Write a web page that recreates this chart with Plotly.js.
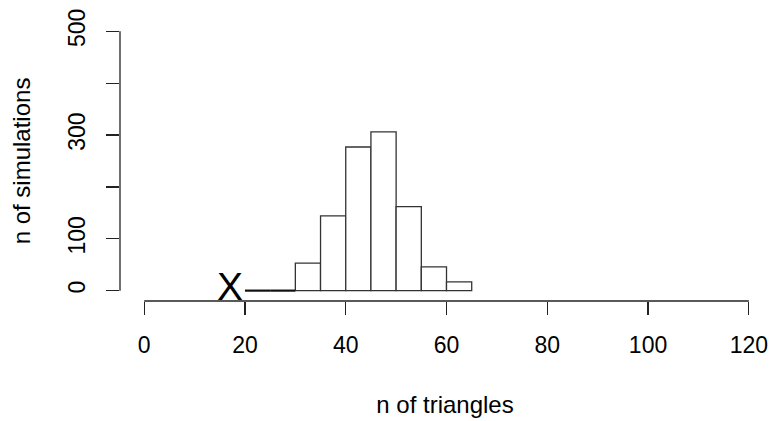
<!DOCTYPE html>
<html>
<head>
<meta charset="utf-8">
<script src="https://cdn.plot.ly/plotly-3.0.1.min.js"></script>
<style>html,body{margin:0;padding:0;background:#fff;}#chart{width:770px;height:421px;}</style>
</head>
<body>
<div id="chart"></div>
<script>
// Histogram bins (left edges, width 5) and counts
const binStarts = [20, 25, 30, 35, 40, 45, 50, 55, 60];
const binWidth = 5;
const counts = [0, 0, 53, 144, 277, 306, 162, 46, 17];
// Observed value marked with "X"
const observed = [17];
const observedLabel = ["X"];
// Axis ticks
const xTicks = [0, 20, 40, 60, 80, 100, 120];
const yTicks = [0, 100, 200, 300, 400, 500];
const yTickText = ["0", "100", "", "300", "", "500"];

const FONT = "Liberation Sans, Arial, sans-serif";
const INK = "#222";

// Non-zero bins as bars
const bx = [], by = [];
binStarts.forEach((s, i) => { if (counts[i] > 0) { bx.push(s + binWidth / 2); by.push(counts[i]); } });
const bars = {
  type: "bar", x: bx, y: by, width: binWidth,
  marker: { color: "#ffffff", line: { color: "#333", width: 1.3 } },
  hoverinfo: "skip", showlegend: false
};
// Zero-count bins drawn as flat outlines
const zx = [], zy = [];
binStarts.forEach((s, i) => { if (counts[i] === 0) { zx.push(s, s + binWidth, null); zy.push(counts[i], counts[i], null); } });
const zeros = {
  type: "scatter", mode: "lines", x: zx, y: zy,
  line: { color: "#111", width: 2.2 }, hoverinfo: "skip", showlegend: false
};

const layout = {
  width: 770, height: 421,
  margin: { l: 119.8, r: 0, t: 21, b: 120 },
  paper_bgcolor: "#fff", plot_bgcolor: "#fff",
  showlegend: false,
  font: { family: FONT, size: 23, color: "#000" },
  xaxis: {
    range: [-4.8, 124.2], tickvals: xTicks, ticktext: xTicks.map(String),
    showgrid: false, zeroline: false, showline: false,
    ticks: "outside", ticklen: 13, tickwidth: 1.3, tickcolor: INK,
    ticklabelstandoff: 10,
    tickfont: { family: FONT, size: 23, color: "#000" },
    title: { text: "n of triangles", font: { family: FONT, size: 24, color: "#000" }, standoff: 39 }
  },
  yaxis: {
    range: [-20, 520], tickvals: yTicks, ticktext: yTickText,
    showgrid: false, zeroline: false, showline: false,
    ticks: "outside", ticklen: 13, tickwidth: 1.3, tickcolor: INK,
    tickangle: -90, ticklabelstandoff: 12,
    tickfont: { family: FONT, size: 23, color: "#000" },
    title: { text: "n of simulations", font: { family: FONT, size: 24, color: "#000" }, standoff: 26 }
  },
  shapes: [
    { type: "line", xref: "x", yref: "paper", x0: xTicks[0], x1: xTicks[xTicks.length - 1], y0: 0, y1: 0,
      line: { color: INK, width: 1.3 } },
    { type: "line", xref: "paper", yref: "y", x0: 0, x1: 0, y0: yTicks[0], y1: yTicks[yTicks.length - 1],
      line: { color: INK, width: 1.3 } }
  ],
  annotations: observed.map((v, i) => ({
    x: v, y: 0, xref: "x", yref: "y", text: observedLabel[i], showarrow: false,
    xanchor: "center", yanchor: "middle", yshift: 4,
    font: { family: FONT, size: 39, color: "#000" }
  }))
};

Plotly.newPlot("chart", [bars, zeros], layout, { staticPlot: true, displayModeBar: false });
</script>
</body>
</html>
